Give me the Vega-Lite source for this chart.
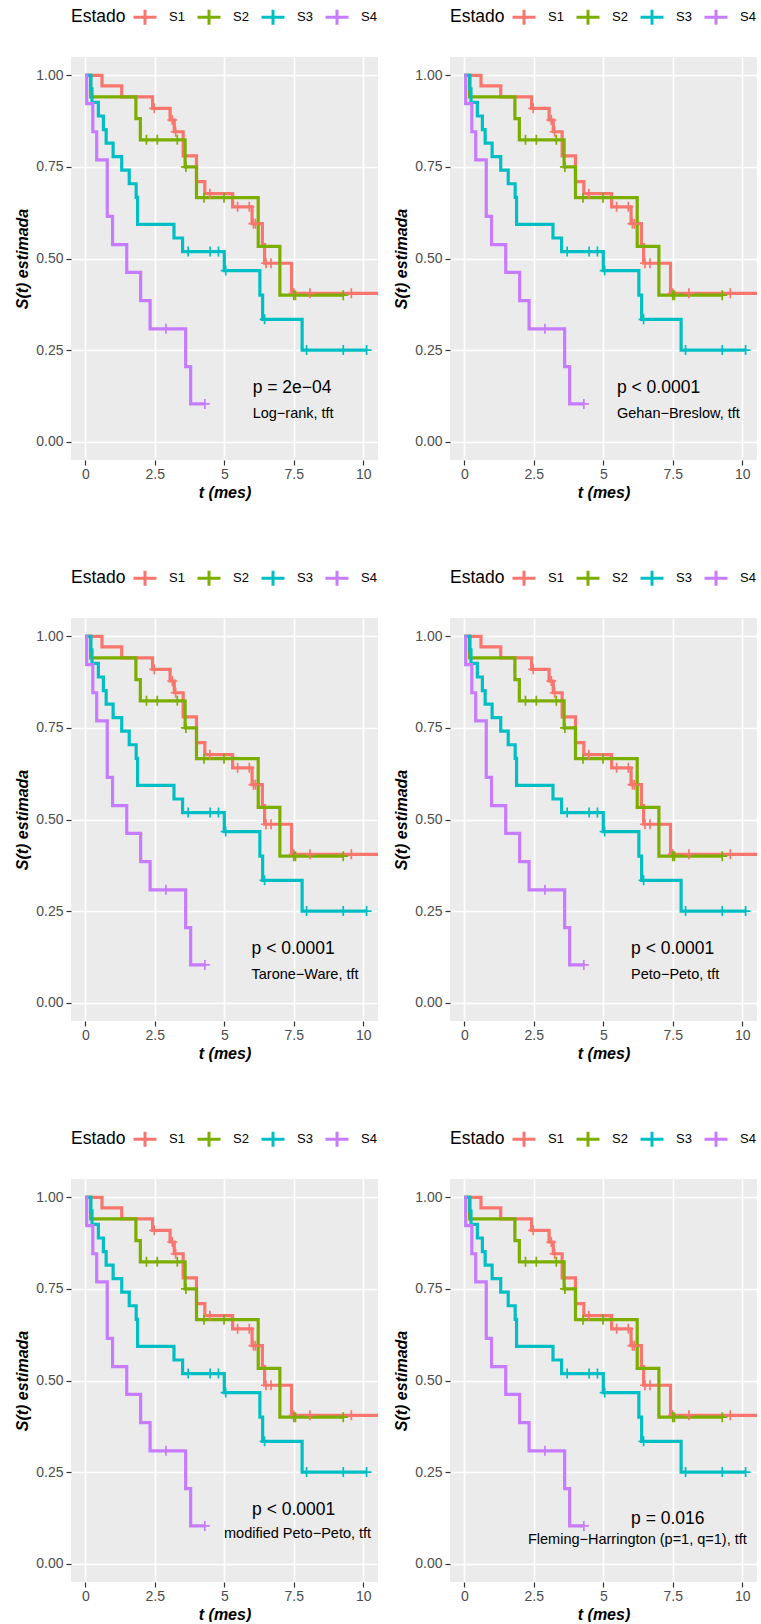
{
  "$schema": "https://vega.github.io/schema/vega-lite/v6.json",
  "padding": {"left": 14, "top": 4, "right": 0, "bottom": 0},
  "background": "white",
  "datasets": {
    "gx": [{"t": 1.25}, {"t": 3.75}, {"t": 6.25}, {"t": 8.75}],
    "gy": [{"s": 0.125}, {"s": 0.375}, {"s": 0.625}, {"s": 0.875}],
    "curves": [
      {"g": "S1", "t": 0, "s": 1}, {"g": "S1", "t": 0.6, "s": 0.971}, {"g": "S1", "t": 1.31, "s": 0.941}, {"g": "S1", "t": 2.42, "s": 0.91}, {"g": "S1", "t": 3.05, "s": 0.878}, {"g": "S1", "t": 3.2, "s": 0.846}, {"g": "S1", "t": 3.52, "s": 0.78}, {"g": "S1", "t": 4.0, "s": 0.71}, {"g": "S1", "t": 4.3, "s": 0.677}, {"g": "S1", "t": 5.3, "s": 0.641}, {"g": "S1", "t": 6.0, "s": 0.595}, {"g": "S1", "t": 6.37, "s": 0.538}, {"g": "S1", "t": 6.45, "s": 0.487}, {"g": "S1", "t": 7.42, "s": 0.405}, {"g": "S1", "t": 11, "s": 0.405},
      {"g": "S2", "t": 0, "s": 1}, {"g": "S2", "t": 0.19, "s": 0.941}, {"g": "S2", "t": 1.82, "s": 0.882}, {"g": "S2", "t": 1.98, "s": 0.824}, {"g": "S2", "t": 3.59, "s": 0.75}, {"g": "S2", "t": 4.0, "s": 0.666}, {"g": "S2", "t": 6.22, "s": 0.533}, {"g": "S2", "t": 7.0, "s": 0.4}, {"g": "S2", "t": 9.3, "s": 0.4},
      {"g": "S3", "t": 0, "s": 1}, {"g": "S3", "t": 0.2, "s": 0.963}, {"g": "S3", "t": 0.24, "s": 0.926}, {"g": "S3", "t": 0.47, "s": 0.889}, {"g": "S3", "t": 0.65, "s": 0.852}, {"g": "S3", "t": 0.75, "s": 0.815}, {"g": "S3", "t": 1.0, "s": 0.778}, {"g": "S3", "t": 1.31, "s": 0.741}, {"g": "S3", "t": 1.58, "s": 0.704}, {"g": "S3", "t": 1.83, "s": 0.667}, {"g": "S3", "t": 1.88, "s": 0.593}, {"g": "S3", "t": 3.19, "s": 0.556}, {"g": "S3", "t": 3.5, "s": 0.519}, {"g": "S3", "t": 5.0, "s": 0.467}, {"g": "S3", "t": 6.28, "s": 0.4}, {"g": "S3", "t": 6.38, "s": 0.334}, {"g": "S3", "t": 7.8, "s": 0.25}, {"g": "S3", "t": 10.12, "s": 0.25},
      {"g": "S4", "t": 0, "s": 1}, {"g": "S4", "t": 0.05, "s": 0.923}, {"g": "S4", "t": 0.27, "s": 0.846}, {"g": "S4", "t": 0.41, "s": 0.769}, {"g": "S4", "t": 0.79, "s": 0.615}, {"g": "S4", "t": 0.98, "s": 0.538}, {"g": "S4", "t": 1.49, "s": 0.462}, {"g": "S4", "t": 1.99, "s": 0.385}, {"g": "S4", "t": 2.33, "s": 0.308}, {"g": "S4", "t": 3.61, "s": 0.205}, {"g": "S4", "t": 3.79, "s": 0.103}, {"g": "S4", "t": 4.3, "s": 0.103}
    ],
    "cens": [
      {"g": "S1", "t": 2.48, "s": 0.91}, {"g": "S1", "t": 3.13, "s": 0.878}, {"g": "S1", "t": 3.25, "s": 0.846}, {"g": "S1", "t": 4.48, "s": 0.677}, {"g": "S1", "t": 5.48, "s": 0.641}, {"g": "S1", "t": 5.9, "s": 0.641}, {"g": "S1", "t": 6.05, "s": 0.595}, {"g": "S1", "t": 6.12, "s": 0.595}, {"g": "S1", "t": 6.5, "s": 0.487}, {"g": "S1", "t": 6.68, "s": 0.487}, {"g": "S1", "t": 7.5, "s": 0.405}, {"g": "S1", "t": 8.08, "s": 0.405}, {"g": "S1", "t": 9.57, "s": 0.405},
      {"g": "S2", "t": 2.2, "s": 0.824}, {"g": "S2", "t": 2.59, "s": 0.824}, {"g": "S2", "t": 3.31, "s": 0.824}, {"g": "S2", "t": 3.62, "s": 0.75}, {"g": "S2", "t": 4.27, "s": 0.666}, {"g": "S2", "t": 4.99, "s": 0.666}, {"g": "S2", "t": 7.5, "s": 0.4}, {"g": "S2", "t": 7.56, "s": 0.4}, {"g": "S2", "t": 9.28, "s": 0.4},
      {"g": "S3", "t": 3.7, "s": 0.519}, {"g": "S3", "t": 4.49, "s": 0.519}, {"g": "S3", "t": 4.79, "s": 0.519}, {"g": "S3", "t": 5.05, "s": 0.467}, {"g": "S3", "t": 6.45, "s": 0.334}, {"g": "S3", "t": 7.96, "s": 0.25}, {"g": "S3", "t": 9.28, "s": 0.25}, {"g": "S3", "t": 10.12, "s": 0.25},
      {"g": "S4", "t": 2.9, "s": 0.308}, {"g": "S4", "t": 4.3, "s": 0.103}
    ],
    "notes": [
      {"panel": 1, "kind": "p", "t": 6.02, "s": 0.146, "label": "p = 2e−04"},
      {"panel": 1, "kind": "m", "t": 6.02, "s": 0.075, "label": "Log−rank, tft"},
      {"panel": 2, "kind": "p", "t": 5.49, "s": 0.146, "label": "p < 0.0001"},
      {"panel": 2, "kind": "m", "t": 5.49, "s": 0.076, "label": "Gehan−Breslow, tft"},
      {"panel": 3, "kind": "p", "t": 5.98, "s": 0.146, "label": "p < 0.0001"},
      {"panel": 3, "kind": "m", "t": 5.98, "s": 0.076, "label": "Tarone−Ware, tft"},
      {"panel": 4, "kind": "p", "t": 6.0, "s": 0.146, "label": "p < 0.0001"},
      {"panel": 4, "kind": "m", "t": 6.0, "s": 0.076, "label": "Peto−Peto, tft"},
      {"panel": 5, "kind": "p", "t": 6.0, "s": 0.147, "label": "p < 0.0001"},
      {"panel": 5, "kind": "m", "t": 4.99, "s": 0.082, "label": "modified Peto−Peto, tft"},
      {"panel": 6, "kind": "p", "t": 6.0, "s": 0.122, "label": "p = 0.016"},
      {"panel": 6, "kind": "m", "t": 2.29, "s": 0.064, "label": "Fleming−Harrington (p=1, q=1), tft"}
    ]
  },
  "columns": 2,
  "spacing": {"row": 65, "column": 15},
  "resolve": {"scale": {"color": "independent"}, "legend": {"color": "independent"}},
  "concat": [
    {"width": 307, "height": 403,
     "encoding": {
       "x": {"field": "t", "type": "quantitative", "title": "t (mes)", "scale": {"domain": [-0.515, 10.53], "nice": false, "zero": false}, "axis": {"values": [0, 2.5, 5, 7.5, 10], "labelExpr": "datum.value + ''", "title": "t (mes)"}},
       "y": {"field": "s", "type": "quantitative", "title": "S(t) estimada", "scale": {"domain": [-0.05, 1.05], "nice": false, "zero": false}, "axis": {"values": [0, 0.25, 0.5, 0.75, 1], "format": ".2f", "title": "S(t) estimada"}}
     },
     "layer": [
      {"data": {"name": "gx"}, "mark": {"type": "rule", "color": "white", "strokeWidth": 0.9, "y": 0, "y2": 403}},
      {"data": {"name": "gy"}, "mark": {"type": "rule", "color": "white", "strokeWidth": 0.9, "x": 0, "x2": 307}},
      {"data": {"name": "curves"}, "mark": {"type": "line", "interpolate": "step-after", "strokeWidth": 3.2, "clip": true}, "encoding": {
        "color": {"field": "g", "type": "nominal", "title": "Estado", "scale": {"domain": ["S1", "S2", "S3", "S4"], "range": ["#F8766D", "#7CAE00", "#00BFC4", "#C77CFF"]}}}},
      {"data": {"name": "cens"}, "mark": {"type": "point", "shape": "M-1,0H1M0,-1V1", "filled": false, "size": 100, "strokeWidth": 1.7, "opacity": 1, "clip": true}, "encoding": {
        "color": {"field": "g", "type": "nominal", "title": "Estado", "scale": {"domain": ["S1", "S2", "S3", "S4"], "range": ["#F8766D", "#7CAE00", "#00BFC4", "#C77CFF"]}}}},
      {"data": {"name": "notes"}, "transform": [{"filter": "datum.panel == 1 && datum.kind == 'p'"}], "mark": {"type": "text", "align": "left", "baseline": "middle", "fontSize": 17.5, "color": "black"}, "encoding": {"text": {"field": "label"}}},
      {"data": {"name": "notes"}, "transform": [{"filter": "datum.panel == 1 && datum.kind == 'm'"}], "mark": {"type": "text", "align": "left", "baseline": "middle", "fontSize": 14.5, "color": "black"}, "encoding": {"text": {"field": "label"}}}
    ]},
    {"width": 307, "height": 403,
     "encoding": {
       "x": {"field": "t", "type": "quantitative", "title": "t (mes)", "scale": {"domain": [-0.515, 10.53], "nice": false, "zero": false}, "axis": {"values": [0, 2.5, 5, 7.5, 10], "labelExpr": "datum.value + ''", "title": "t (mes)"}},
       "y": {"field": "s", "type": "quantitative", "title": "S(t) estimada", "scale": {"domain": [-0.05, 1.05], "nice": false, "zero": false}, "axis": {"values": [0, 0.25, 0.5, 0.75, 1], "format": ".2f", "title": "S(t) estimada"}}
     },
     "layer": [
      {"data": {"name": "gx"}, "mark": {"type": "rule", "color": "white", "strokeWidth": 0.9, "y": 0, "y2": 403}},
      {"data": {"name": "gy"}, "mark": {"type": "rule", "color": "white", "strokeWidth": 0.9, "x": 0, "x2": 307}},
      {"data": {"name": "curves"}, "mark": {"type": "line", "interpolate": "step-after", "strokeWidth": 3.2, "clip": true}, "encoding": {
        "color": {"field": "g", "type": "nominal", "title": "Estado", "scale": {"domain": ["S1", "S2", "S3", "S4"], "range": ["#F8766D", "#7CAE00", "#00BFC4", "#C77CFF"]}}}},
      {"data": {"name": "cens"}, "mark": {"type": "point", "shape": "M-1,0H1M0,-1V1", "filled": false, "size": 100, "strokeWidth": 1.7, "opacity": 1, "clip": true}, "encoding": {
        "color": {"field": "g", "type": "nominal", "title": "Estado", "scale": {"domain": ["S1", "S2", "S3", "S4"], "range": ["#F8766D", "#7CAE00", "#00BFC4", "#C77CFF"]}}}},
      {"data": {"name": "notes"}, "transform": [{"filter": "datum.panel == 2 && datum.kind == 'p'"}], "mark": {"type": "text", "align": "left", "baseline": "middle", "fontSize": 17.5, "color": "black"}, "encoding": {"text": {"field": "label"}}},
      {"data": {"name": "notes"}, "transform": [{"filter": "datum.panel == 2 && datum.kind == 'm'"}], "mark": {"type": "text", "align": "left", "baseline": "middle", "fontSize": 14.5, "color": "black"}, "encoding": {"text": {"field": "label"}}}
    ]},
    {"width": 307, "height": 403,
     "encoding": {
       "x": {"field": "t", "type": "quantitative", "title": "t (mes)", "scale": {"domain": [-0.515, 10.53], "nice": false, "zero": false}, "axis": {"values": [0, 2.5, 5, 7.5, 10], "labelExpr": "datum.value + ''", "title": "t (mes)"}},
       "y": {"field": "s", "type": "quantitative", "title": "S(t) estimada", "scale": {"domain": [-0.05, 1.05], "nice": false, "zero": false}, "axis": {"values": [0, 0.25, 0.5, 0.75, 1], "format": ".2f", "title": "S(t) estimada"}}
     },
     "layer": [
      {"data": {"name": "gx"}, "mark": {"type": "rule", "color": "white", "strokeWidth": 0.9, "y": 0, "y2": 403}},
      {"data": {"name": "gy"}, "mark": {"type": "rule", "color": "white", "strokeWidth": 0.9, "x": 0, "x2": 307}},
      {"data": {"name": "curves"}, "mark": {"type": "line", "interpolate": "step-after", "strokeWidth": 3.2, "clip": true}, "encoding": {
        "color": {"field": "g", "type": "nominal", "title": "Estado", "scale": {"domain": ["S1", "S2", "S3", "S4"], "range": ["#F8766D", "#7CAE00", "#00BFC4", "#C77CFF"]}}}},
      {"data": {"name": "cens"}, "mark": {"type": "point", "shape": "M-1,0H1M0,-1V1", "filled": false, "size": 100, "strokeWidth": 1.7, "opacity": 1, "clip": true}, "encoding": {
        "color": {"field": "g", "type": "nominal", "title": "Estado", "scale": {"domain": ["S1", "S2", "S3", "S4"], "range": ["#F8766D", "#7CAE00", "#00BFC4", "#C77CFF"]}}}},
      {"data": {"name": "notes"}, "transform": [{"filter": "datum.panel == 3 && datum.kind == 'p'"}], "mark": {"type": "text", "align": "left", "baseline": "middle", "fontSize": 17.5, "color": "black"}, "encoding": {"text": {"field": "label"}}},
      {"data": {"name": "notes"}, "transform": [{"filter": "datum.panel == 3 && datum.kind == 'm'"}], "mark": {"type": "text", "align": "left", "baseline": "middle", "fontSize": 14.5, "color": "black"}, "encoding": {"text": {"field": "label"}}}
    ]},
    {"width": 307, "height": 403,
     "encoding": {
       "x": {"field": "t", "type": "quantitative", "title": "t (mes)", "scale": {"domain": [-0.515, 10.53], "nice": false, "zero": false}, "axis": {"values": [0, 2.5, 5, 7.5, 10], "labelExpr": "datum.value + ''", "title": "t (mes)"}},
       "y": {"field": "s", "type": "quantitative", "title": "S(t) estimada", "scale": {"domain": [-0.05, 1.05], "nice": false, "zero": false}, "axis": {"values": [0, 0.25, 0.5, 0.75, 1], "format": ".2f", "title": "S(t) estimada"}}
     },
     "layer": [
      {"data": {"name": "gx"}, "mark": {"type": "rule", "color": "white", "strokeWidth": 0.9, "y": 0, "y2": 403}},
      {"data": {"name": "gy"}, "mark": {"type": "rule", "color": "white", "strokeWidth": 0.9, "x": 0, "x2": 307}},
      {"data": {"name": "curves"}, "mark": {"type": "line", "interpolate": "step-after", "strokeWidth": 3.2, "clip": true}, "encoding": {
        "color": {"field": "g", "type": "nominal", "title": "Estado", "scale": {"domain": ["S1", "S2", "S3", "S4"], "range": ["#F8766D", "#7CAE00", "#00BFC4", "#C77CFF"]}}}},
      {"data": {"name": "cens"}, "mark": {"type": "point", "shape": "M-1,0H1M0,-1V1", "filled": false, "size": 100, "strokeWidth": 1.7, "opacity": 1, "clip": true}, "encoding": {
        "color": {"field": "g", "type": "nominal", "title": "Estado", "scale": {"domain": ["S1", "S2", "S3", "S4"], "range": ["#F8766D", "#7CAE00", "#00BFC4", "#C77CFF"]}}}},
      {"data": {"name": "notes"}, "transform": [{"filter": "datum.panel == 4 && datum.kind == 'p'"}], "mark": {"type": "text", "align": "left", "baseline": "middle", "fontSize": 17.5, "color": "black"}, "encoding": {"text": {"field": "label"}}},
      {"data": {"name": "notes"}, "transform": [{"filter": "datum.panel == 4 && datum.kind == 'm'"}], "mark": {"type": "text", "align": "left", "baseline": "middle", "fontSize": 14.5, "color": "black"}, "encoding": {"text": {"field": "label"}}}
    ]},
    {"width": 307, "height": 403,
     "encoding": {
       "x": {"field": "t", "type": "quantitative", "title": "t (mes)", "scale": {"domain": [-0.515, 10.53], "nice": false, "zero": false}, "axis": {"values": [0, 2.5, 5, 7.5, 10], "labelExpr": "datum.value + ''", "title": "t (mes)"}},
       "y": {"field": "s", "type": "quantitative", "title": "S(t) estimada", "scale": {"domain": [-0.05, 1.05], "nice": false, "zero": false}, "axis": {"values": [0, 0.25, 0.5, 0.75, 1], "format": ".2f", "title": "S(t) estimada"}}
     },
     "layer": [
      {"data": {"name": "gx"}, "mark": {"type": "rule", "color": "white", "strokeWidth": 0.9, "y": 0, "y2": 403}},
      {"data": {"name": "gy"}, "mark": {"type": "rule", "color": "white", "strokeWidth": 0.9, "x": 0, "x2": 307}},
      {"data": {"name": "curves"}, "mark": {"type": "line", "interpolate": "step-after", "strokeWidth": 3.2, "clip": true}, "encoding": {
        "color": {"field": "g", "type": "nominal", "title": "Estado", "scale": {"domain": ["S1", "S2", "S3", "S4"], "range": ["#F8766D", "#7CAE00", "#00BFC4", "#C77CFF"]}}}},
      {"data": {"name": "cens"}, "mark": {"type": "point", "shape": "M-1,0H1M0,-1V1", "filled": false, "size": 100, "strokeWidth": 1.7, "opacity": 1, "clip": true}, "encoding": {
        "color": {"field": "g", "type": "nominal", "title": "Estado", "scale": {"domain": ["S1", "S2", "S3", "S4"], "range": ["#F8766D", "#7CAE00", "#00BFC4", "#C77CFF"]}}}},
      {"data": {"name": "notes"}, "transform": [{"filter": "datum.panel == 5 && datum.kind == 'p'"}], "mark": {"type": "text", "align": "left", "baseline": "middle", "fontSize": 17.5, "color": "black"}, "encoding": {"text": {"field": "label"}}},
      {"data": {"name": "notes"}, "transform": [{"filter": "datum.panel == 5 && datum.kind == 'm'"}], "mark": {"type": "text", "align": "left", "baseline": "middle", "fontSize": 14.5, "color": "black"}, "encoding": {"text": {"field": "label"}}}
    ]},
    {"width": 307, "height": 403,
     "encoding": {
       "x": {"field": "t", "type": "quantitative", "title": "t (mes)", "scale": {"domain": [-0.515, 10.53], "nice": false, "zero": false}, "axis": {"values": [0, 2.5, 5, 7.5, 10], "labelExpr": "datum.value + ''", "title": "t (mes)"}},
       "y": {"field": "s", "type": "quantitative", "title": "S(t) estimada", "scale": {"domain": [-0.05, 1.05], "nice": false, "zero": false}, "axis": {"values": [0, 0.25, 0.5, 0.75, 1], "format": ".2f", "title": "S(t) estimada"}}
     },
     "layer": [
      {"data": {"name": "gx"}, "mark": {"type": "rule", "color": "white", "strokeWidth": 0.9, "y": 0, "y2": 403}},
      {"data": {"name": "gy"}, "mark": {"type": "rule", "color": "white", "strokeWidth": 0.9, "x": 0, "x2": 307}},
      {"data": {"name": "curves"}, "mark": {"type": "line", "interpolate": "step-after", "strokeWidth": 3.2, "clip": true}, "encoding": {
        "color": {"field": "g", "type": "nominal", "title": "Estado", "scale": {"domain": ["S1", "S2", "S3", "S4"], "range": ["#F8766D", "#7CAE00", "#00BFC4", "#C77CFF"]}}}},
      {"data": {"name": "cens"}, "mark": {"type": "point", "shape": "M-1,0H1M0,-1V1", "filled": false, "size": 100, "strokeWidth": 1.7, "opacity": 1, "clip": true}, "encoding": {
        "color": {"field": "g", "type": "nominal", "title": "Estado", "scale": {"domain": ["S1", "S2", "S3", "S4"], "range": ["#F8766D", "#7CAE00", "#00BFC4", "#C77CFF"]}}}},
      {"data": {"name": "notes"}, "transform": [{"filter": "datum.panel == 6 && datum.kind == 'p'"}], "mark": {"type": "text", "align": "left", "baseline": "middle", "fontSize": 17.5, "color": "black"}, "encoding": {"text": {"field": "label"}}},
      {"data": {"name": "notes"}, "transform": [{"filter": "datum.panel == 6 && datum.kind == 'm'"}], "mark": {"type": "text", "align": "left", "baseline": "middle", "fontSize": 14.5, "color": "black"}, "encoding": {"text": {"field": "label"}}}
    ]}
  ],
  "config": {
    "view": {"fill": "#EBEBEB", "stroke": null},
    "font": "Liberation Sans",
    "axis": {"domain": false, "grid": true, "gridColor": "white", "gridWidth": 1.6, "tickColor": "#333333", "tickSize": 5, "tickWidth": 1.2, "labelColor": "#4D4D4D", "labelFontSize": 14, "labelFont": "Liberation Sans", "titleFont": "Liberation Sans", "titleFontSize": 16, "titleFontWeight": "bold", "titleFontStyle": "italic", "titleColor": "black"},
    "axisX": {"labelPadding": 2, "titlePadding": 3},
    "axisY": {"labelPadding": 3, "titlePadding": 5},
    "legend": {"orient": "top", "direction": "horizontal", "titleOrient": "left", "titleAnchor": "middle", "titleBaseline": "middle", "titleFontSize": 17.5, "titleFontWeight": "normal", "titleColor": "black", "titleFont": "Liberation Sans", "labelFont": "Liberation Sans", "labelFontSize": 13, "labelColor": "black", "symbolType": "M-1,0H1M0,-0.65V0.65", "symbolSize": 529, "symbolStrokeWidth": 3, "labelOffset": 11, "columnPadding": 6, "titlePadding": 6, "offset": 26, "padding": 0}
  }
}
